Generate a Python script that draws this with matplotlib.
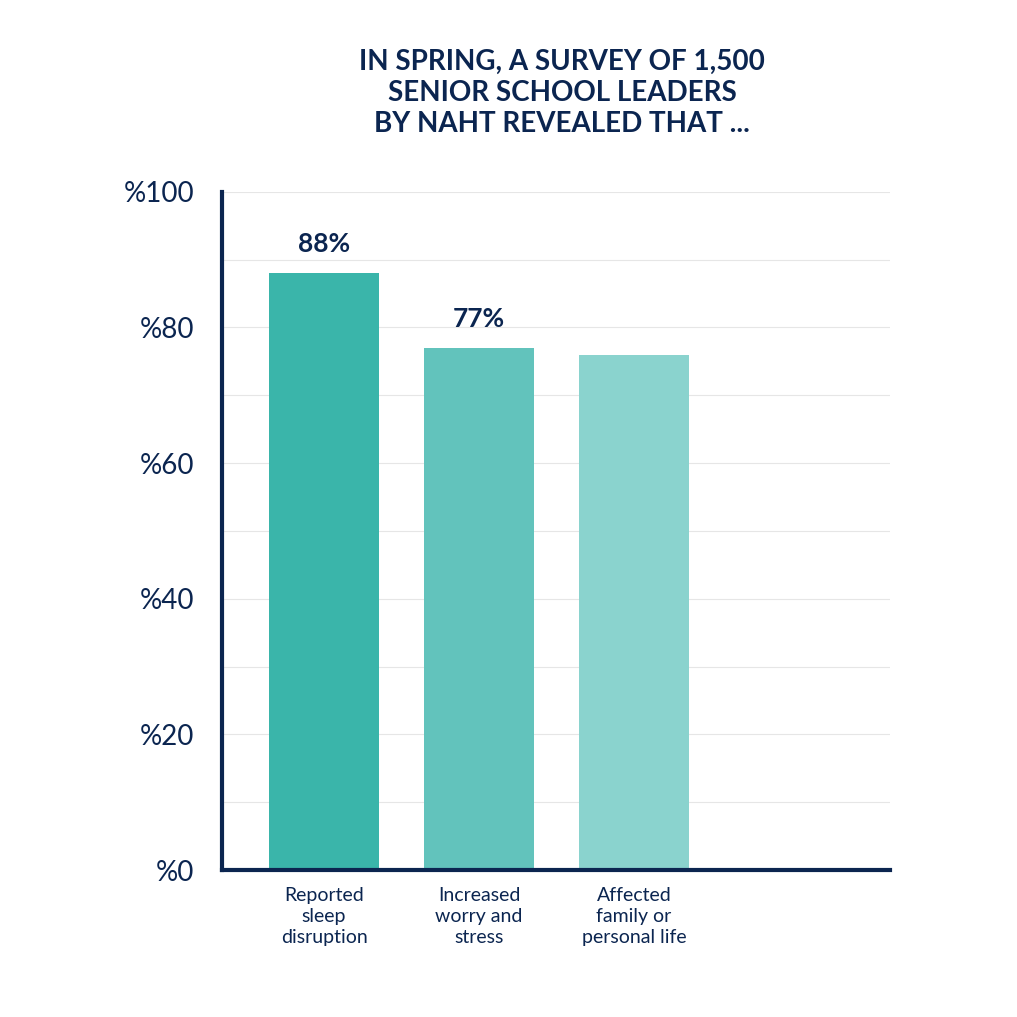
import matplotlib
matplotlib.use("Agg")
import matplotlib.pyplot as plt

categories = ["Reported\nsleep\ndisruption", "Increased\nworry and\nstress", "Affected\nfamily or\npersonal life"]
values = [88, 77, 76]
value_labels = ["88%", "77%", None]
colors = ["#3AB5AA", "#62C3BC", "#8AD3CE"]
yticks = [0, 20, 40, 60, 80, 100]
navy = "#0B2550"

plt.rcParams["font.family"] = ["Lato", "DejaVu Sans"]
fig = plt.figure(figsize=(10.17, 10.17), dpi=100)
ax = fig.add_axes([0.218, 0.1445, 0.657, 0.667])

x = list(range(len(values)))
ax.bar(x, values, width=0.71, color=colors, zorder=2)
for xi, v, lab in zip(x, values, value_labels):
    if lab:
        ax.text(xi, v + 2.5, lab, ha="center", va="bottom", fontsize=19, fontweight="bold", color=navy)

ax.set_xlim(-0.66, 3.65)
ax.set_ylim(0, 100)
ax.set_yticks(yticks)
ax.set_yticklabels([f"%{t}" for t in yticks], fontsize=20, color=navy)
ax.set_yticks(range(0, 101, 10), minor=True)
ax.grid(axis="y", which="both", color="#E6E6E6", lw=0.8, zorder=0)
ax.tick_params(axis="y", which="both", length=0, pad=20)
ax.set_xticks(x)
ax.set_xticklabels(categories, fontsize=14, color=navy, linespacing=1.3)
ax.tick_params(axis="x", length=0, pad=12)
for s in ["top", "right"]:
    ax.spines[s].set_visible(False)
for s in ["left", "bottom"]:
    ax.spines[s].set_color(navy)
    ax.spines[s].set_linewidth(3)

fig.text(0.553, 0.952, "IN SPRING, A SURVEY OF 1,500\nSENIOR SCHOOL LEADERS\nBY NAHT REVEALED THAT ...",
         ha="center", va="top", fontsize=20, fontweight="bold", color=navy, linespacing=1.25)

fig.savefig("out.png", dpi=100, facecolor="white")
